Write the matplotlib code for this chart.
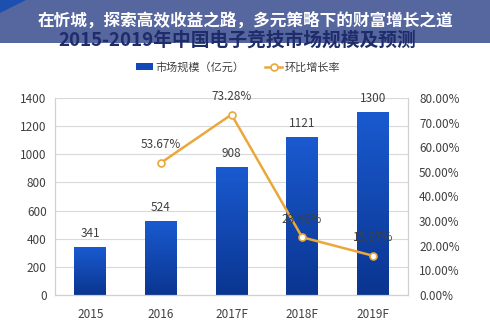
import matplotlib
matplotlib.use("Agg")
import matplotlib.pyplot as plt
from matplotlib.patches import Rectangle, Polygon
import numpy as np

plt.rcParams['font.family'] = ['Noto Sans CJK SC', 'DejaVu Sans']

categories = ["2015", "2016", "2017F", "2018F", "2019F"]
market_size = [341, 524, 908, 1121, 1300]
growth_cats = ["2016", "2017F", "2018F", "2019F"]
growth_rate = [53.67, 73.28, 23.46, 15.97]
left_ticks = [0, 200, 400, 600, 800, 1000, 1200, 1400]
right_ticks = [0, 10, 20, 30, 40, 50, 60, 70, 80]

banner_text = "在忻城，探索高效收益之路，多元策略下的财富增长之道"
chart_title = "2015-2019年中国电子竞技市场规模及预测"
bar_label = "市场规模（亿元）"
line_label = "环比增长率"

W, H = 490, 323
fig = plt.figure(figsize=(W / 100, H / 100), dpi=100)
fig.patch.set_facecolor("white")

ax = fig.add_axes([55 / W, 1 - 295 / H, 353 / W, 197 / H])
x = np.arange(len(categories))
bw = 0.45
bars = ax.bar(x, market_size, width=bw, color="#1249b8", zorder=2, label=bar_label)

# vertical gradient inside bars
grad = np.linspace(0, 1, 256).reshape(-1, 1)
cmap = matplotlib.colors.LinearSegmentedColormap.from_list("g", ["#0a3590", "#1a5ad0"])
for b in bars:
    bx, by = b.get_x(), b.get_y()
    im = ax.imshow(grad, extent=[bx, bx + b.get_width(), by, by + b.get_height()],
                   origin="lower", cmap=cmap, aspect="auto", zorder=2.1)
    im.set_clip_path(b)

ax.set_xlim(-0.5, len(categories) - 0.5)
ax.set_ylim(0, 1400)
ax.set_yticks(left_ticks)
ax.set_xticks(x)
ax.set_xticklabels(categories)
ax.grid(axis="y", color="#d9d9d9", linewidth=0.8, zorder=0)
ax.tick_params(length=0, labelsize=8.5, colors="#404040", pad=6)
ax.tick_params(axis="x", pad=9)
for s in ["left", "right", "bottom"]:
    ax.spines[s].set_color("#d0d0d0")
    ax.spines[s].set_linewidth(0.8)
ax.spines["top"].set_visible(False)

for xi, v in zip(x, market_size):
    ax.annotate(str(v), (xi, v), xytext=(0, 10), textcoords="offset points",
                ha="center", va="center", fontsize=8.5, color="#404040", zorder=5)

ax2 = ax.twinx()
gx = [categories.index(c) for c in growth_cats]
ax2.plot(gx, growth_rate, color="#eaa83a", linewidth=1.8, marker="o", markersize=5,
         markerfacecolor="white", markeredgecolor="#eaa83a", markeredgewidth=1.2,
         zorder=4, label=line_label)
ax2.set_ylim(0, 80)
ax2.set_yticks(right_ticks)
ax2.set_yticklabels([f"{t:.2f}%" for t in right_ticks])
ax2.tick_params(length=0, labelsize=8.5, colors="#404040", pad=8)
for s in ["left", "right", "bottom"]:
    ax2.spines[s].set_color("#d0d0d0")
    ax2.spines[s].set_linewidth(0.8)
ax2.spines["top"].set_visible(False)
ax2.set_xlim(-0.5, len(categories) - 0.5)
for xi, v in zip(gx, growth_rate):
    ax2.annotate(f"{v:.2f}%", (xi, v), xytext=(0, 13), textcoords="offset points",
                 ha="center", va="center", fontsize=8.5, color="#404040", zorder=5)

h1, l1 = ax.get_legend_handles_labels()
h2, l2 = ax2.get_legend_handles_labels()
fig.legend(h1 + h2, l1 + l2, loc="center", bbox_to_anchor=(238 / W, 1 - 67 / H),
           ncol=2, frameon=False, fontsize=8, handlelength=1.6, handleheight=0.6,
           columnspacing=1.8, handletextpad=0.2, labelcolor="#404040")

# banner
fig.patches.append(Rectangle((0, 1 - 43 / H), 1, 43 / H, transform=fig.transFigure,
                             facecolor="#56669f", edgecolor="none", zorder=3))
fig.patches.append(Polygon([(0, 1), (26 / W, 1), (0, 1 - 13 / H)], closed=True,
                           transform=fig.transFigure, facecolor="#1d4fb0",
                           edgecolor="none", zorder=3.1))

# chart title (overlapping the banner's lower edge)
fig.text(237 / W, 1 - 40 / H, chart_title, ha="center", va="center", fontsize=13.5,
         fontweight="bold", color="#1e2c6a", zorder=5)

fig.text(245 / W, 1 - 21 / H, banner_text, ha="center", va="center", fontsize=12,
         fontweight="bold", color="white", zorder=6)

fig.savefig("out.png", dpi=100)
